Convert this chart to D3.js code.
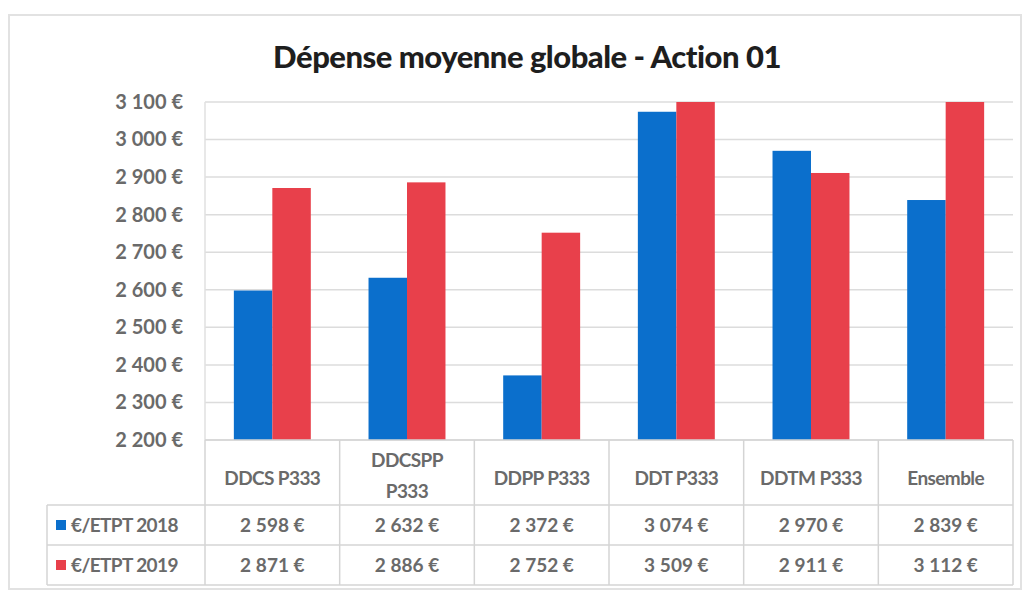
<!DOCTYPE html>
<meta charset="utf-8">
<style>

body {
  margin: 0;
  background: #fff;
  font-family: Lato, "Open Sans", sans-serif;
}

.grid line {
  stroke: #dcdcdc;
  stroke-width: 1.5px;
}

.table line {
  stroke: #d4d4d4;
  stroke-width: 1.5px;
}

</style>
<body>
<script src="https://d3js.org/d3.v7.js"></script>
<script>

const categories = ["DDCS P333", "DDCSPP P333", "DDPP P333", "DDT P333", "DDTM P333", "Ensemble"];

const series = ["€/ETPT 2018", "€/ETPT 2019"];

const values2018 = [2598, 2632, 2372, 3074, 2970, 2839];

const values2019 = [2871, 2886, 2752, 3509, 2911, 3112];

const yTicks = [2200, 2300, 2400, 2500, 2600, 2700, 2800, 2900, 3000, 3100];

const colors = ["#0b6fcc", "#e8404b"];

const width = 1028;
const height = 592;

const plot = {left: 205, right: 1013, top: 102, bottom: 440};
const rowBottoms = [505, 545, 585];

const fmt = v => d3.format(",")(v).replace(/,/g, "\u202f") + " €";

const data = categories.map((c, i) => ({cat: c, vals: [values2018[i], values2019[i]]}));

const xScale = d3.scaleBand()
    .domain(categories)
    .range([plot.left, plot.right]);

const xInner = d3.scaleBand()
    .domain([0, 1])
    .range([0, xScale.bandwidth()])
    .paddingOuter(0.75)
    .paddingInner(0);

const yScale = d3.scaleLinear()
    .domain([2200, 3100])
    .range([plot.bottom, plot.top]);

const svg = d3.select("body").append("svg")
    .attr("width", width)
    .attr("height", height);

// chart frame
svg.append("rect")
    .attr("x", 9).attr("y", 15)
    .attr("width", 1012).attr("height", 574)
    .attr("fill", "#fff")
    .attr("stroke", "#e2e2e2")
    .attr("stroke-width", 2);

svg.append("text")
    .attr("x", 527)
    .attr("y", 68)
    .attr("text-anchor", "middle")
    .attr("font-size", 31)
    .attr("font-weight", 900)
    .attr("letter-spacing", -0.5)
    .attr("fill", "#1e1e1e")
    .text("Dépense moyenne globale - Action 01");

// gridlines
svg.append("g")
    .attr("class", "grid")
    .selectAll("line")
    .data(yTicks)
    .join("line")
      .attr("x1", plot.left)
      .attr("x2", plot.right)
      .attr("y1", d => yScale(d))
      .attr("y2", d => yScale(d));

svg.append("line")
    .attr("x1", plot.left).attr("x2", plot.left)
    .attr("y1", plot.top).attr("y2", plot.bottom)
    .attr("stroke", "#e0e0e0").attr("stroke-width", 1.5);

// y axis
const yAxis = d3.axisLeft(yScale)
    .tickValues(yTicks)
    .tickSize(0)
    .tickPadding(22)
    .tickFormat(fmt);

svg.append("g")
    .attr("transform", `translate(${plot.left}, 0)`)
    .call(yAxis)
    .call(g => g.select(".domain").remove())
    .call(g => g.selectAll("text")
        .attr("font-family", "Lato, sans-serif")
        .attr("font-size", 20)
        .attr("font-weight", 700)
        .attr("letter-spacing", -0.8)
        .attr("fill", "#6a6a6a"));

// bars
svg.append("defs").append("clipPath")
    .attr("id", "plotclip")
  .append("rect")
    .attr("x", plot.left).attr("y", plot.top)
    .attr("width", plot.right - plot.left)
    .attr("height", plot.bottom - plot.top);

svg.append("g")
    .attr("clip-path", "url(#plotclip)")
  .selectAll("g")
  .data(data)
  .join("g")
    .attr("transform", d => `translate(${xScale(d.cat)}, 0)`)
  .selectAll("rect")
  .data(d => d.vals)
  .join("rect")
    .attr("x", (d, i) => xInner(i))
    .attr("width", xInner.bandwidth())
    .attr("y", d => yScale(Math.min(d, 3100)))
    .attr("height", d => plot.bottom - yScale(Math.min(d, 3100)))
    .attr("fill", (d, i) => colors[i]);

// data table
const table = svg.append("g").attr("class", "table");

const bounds = categories.map(c => xScale(c)).concat([plot.right]);

table.selectAll("line.v")
  .data(bounds)
  .join("line")
    .attr("class", "v")
    .attr("x1", d => d).attr("x2", d => d)
    .attr("y1", plot.bottom).attr("y2", rowBottoms[2]);

table.append("line")
    .attr("x1", 47).attr("x2", 47)
    .attr("y1", rowBottoms[0]).attr("y2", rowBottoms[2]);

table.append("line")
    .attr("x1", plot.left).attr("x2", plot.right)
    .attr("y1", plot.bottom).attr("y2", plot.bottom);

table.selectAll("line.h")
  .data(rowBottoms)
  .join("line")
    .attr("class", "h")
    .attr("x1", 47).attr("x2", plot.right)
    .attr("y1", d => d).attr("y2", d => d);

const textStyle = sel => sel
    .attr("font-family", "Lato, sans-serif")
    .attr("font-size", 19)
    .attr("font-weight", 700)
    .attr("letter-spacing", -0.6)
    .attr("fill", "#6a6a6a")
    .attr("text-anchor", "middle");

// category labels, DDCSPP P333 wraps
table.selectAll("text.cat")
  .data(categories)
  .join("text")
    .attr("class", "cat")
    .call(textStyle)
    .attr("x", d => xScale(d) + xScale.bandwidth() / 2)
    .attr("y", 485)
    .each(function(d) {
      const t = d3.select(this);
      if (d === "DDCSPP P333") {
        t.attr("y", null);
        t.append("tspan").attr("x", t.attr("x")).attr("y", 467).text("DDCSPP");
        t.append("tspan").attr("x", t.attr("x")).attr("y", 498).text("P333");
      } else {
        t.text(d);
      }
    });

series.forEach((s, si) => {
  const yMid = (si === 0 ? (rowBottoms[0] + rowBottoms[1]) : (rowBottoms[1] + rowBottoms[2])) / 2;

  table.append("rect")
      .attr("x", 56).attr("y", yMid - 5)
      .attr("width", 10).attr("height", 10)
      .attr("fill", colors[si]);

  table.append("text")
      .call(textStyle)
      .attr("text-anchor", "start")
      .attr("x", 71)
      .attr("y", yMid + 7)
      .text(s);

  table.selectAll(null)
    .data(data)
    .join("text")
      .call(textStyle)
      .attr("x", d => xScale(d.cat) + xScale.bandwidth() / 2)
      .attr("y", yMid + 7)
      .text(d => fmt(d.vals[si]));
});

</script>
